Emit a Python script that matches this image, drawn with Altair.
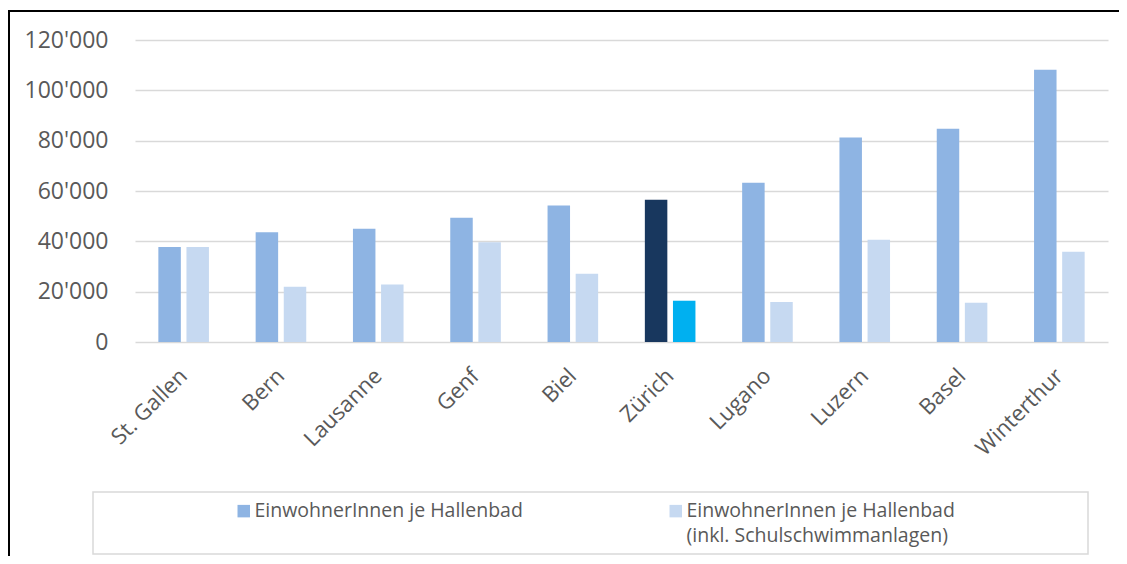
import altair as alt
import pandas as pd

cities = ["St. Gallen", "Bern", "Lausanne", "Genf", "Biel", "Zürich",
          "Lugano", "Luzern", "Basel", "Winterthur"]
series_a = [37700, 43600, 45000, 49400, 54200, 56500, 63300, 81300, 84700, 108200]
series_b = [37700, 22000, 22800, 39600, 27100, 16400, 15900, 40600, 15600, 35900]
name_a = "EinwohnerInnen je Hallenbad"
name_b = "EinwohnerInnen je Hallenbad (inkl. Schulschwimmanlagen)"
legend_b_lines = ["EinwohnerInnen je Hallenbad", "(inkl. Schulschwimmanlagen)"]
highlight = "Zürich"
y_ticks = [0, 20000, 40000, 60000, 80000, 100000, 120000]

rows = []
for c, a, b in zip(cities, series_a, series_b):
    rows.append({"city": c, "series": name_a, "value": a,
                 "key": ("Z-A" if c == highlight else name_a)})
    rows.append({"city": c, "series": name_b, "value": b,
                 "key": ("Z-B" if c == highlight else name_b)})
df = pd.DataFrame(rows)

FONT = "Open Sans"
GRAY = "#595959"

label_expr = ("datum.label == '" + name_b + "' ? ['" + legend_b_lines[0] + "', '"
              + legend_b_lines[1] + "'] : [datum.label, '']")

bars = alt.Chart(df).mark_bar().encode(
    x=alt.X("city:N", sort=cities, title=None,
            scale=alt.Scale(paddingInner=0.48, paddingOuter=0.24),
            axis=alt.Axis(labelAngle=-45, labelAlign="right", labelBaseline="middle",
                          labelPadding=30, labelFontSize=22, labelColor=GRAY,
                          labelFont=FONT, ticks=False, domain=False, grid=False)),
    xOffset=alt.XOffset("series:N", sort=[name_a, name_b],
                        scale=alt.Scale(domain=[name_a, name_b], paddingInner=0.2, paddingOuter=0)),
    y=alt.Y("value:Q", title=None,
            scale=alt.Scale(domain=[0, 120000], nice=False),
            axis=alt.Axis(values=y_ticks, labelFontSize=23, labelColor=GRAY, labelFont=FONT,
                          labelPadding=27, ticks=False, domain=False,
                          gridColor="#d9d9d9", gridWidth=1.5,
                          labelExpr="replace(format(datum.value, ','), ',', \"'\")")),
    color=alt.Color("key:N",
                    scale=alt.Scale(domain=[name_a, name_b, "Z-A", "Z-B"],
                                    range=["#8EB4E3", "#C6D9F1", "#18375E", "#00B0F0"]),
                    legend=alt.Legend(values=[name_a, name_b], title=None, orient="none",
                                      direction="horizontal", columns=2,
                                      legendX=99, legendY=461, padding=0,
                                      symbolType="square", symbolSize=156,
                                      symbolStrokeWidth=0, symbolOpacity=1,
                                      labelFont=FONT, labelFontSize=19.5, labelColor=GRAY,
                                      labelOffset=1, labelLimit=500, columnPadding=143,
                                      labelBaseline="middle",
                                      labelExpr=label_expr)),
)

frame_df = pd.DataFrame({"k": [0]})
frame_top = alt.Chart(frame_df).mark_rule(color="black", strokeWidth=2).encode(
    x=alt.value(-127), x2=alt.value(1000), y=alt.value(-29))
frame_left = alt.Chart(frame_df).mark_rule(color="black", strokeWidth=2).encode(
    x=alt.value(-126), y=alt.value(-29), y2=alt.value(600))
legend_box = alt.Chart(frame_df).mark_rect(fill="white", stroke="#d9d9d9", strokeWidth=1.5).encode(
    x=alt.value(-42), x2=alt.value(953), y=alt.value(452), y2=alt.value(514))

chart = alt.layer(frame_top, frame_left, legend_box, bars).properties(
    width=973, height=302,
    autosize=alt.AutoSizeParams(type="none"),
    padding={"left": 127, "top": 32, "right": 11, "bottom": 214},
    background="white",
).configure(
    style={"guide-label": {"lineHeight": 25}}
).configure_view(stroke=None)

chart.save("out.html", embed_options={"renderer": "svg", "actions": False})
